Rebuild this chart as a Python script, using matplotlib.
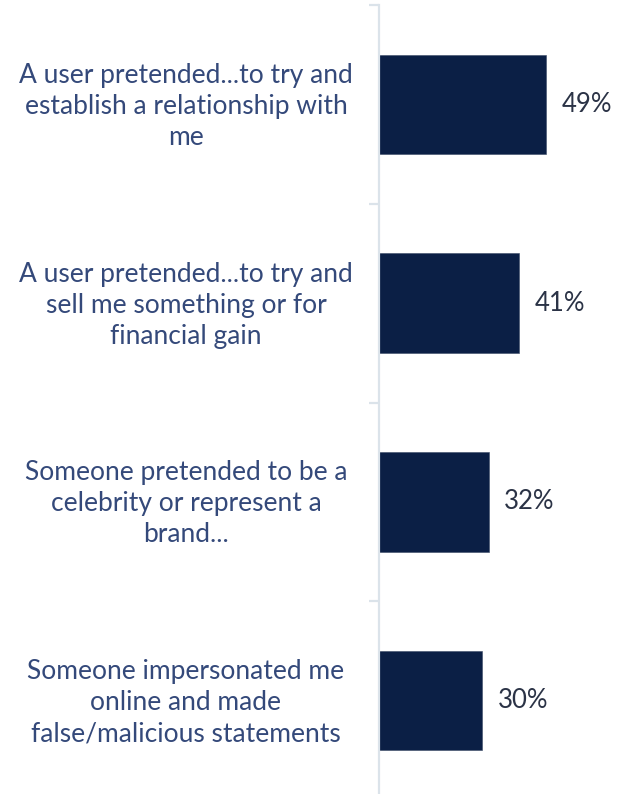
import matplotlib

matplotlib.use("Agg")

import matplotlib.pyplot as plt
from matplotlib.transforms import blended_transform_factory

categories = [
    "A user pretended...to try and\nestablish a relationship with\nme",
    "A user pretended...to try and\nsell me something or for\nfinancial gain",
    "Someone pretended to be a\ncelebrity or represent a\nbrand...",
    "Someone impersonated me\nonline and made\nfalse/malicious statements",
]
values = [49, 41, 32, 30]

BAR_COLOR = "#0b1f45"
LABEL_COLOR = "#34497a"
VALUE_COLOR = "#2b3346"
AXIS_COLOR = "#dbe3ea"

plt.rcParams["font.family"] = ["Lato", "DejaVu Sans"]

W, H = 618, 794
fig = plt.figure(figsize=(W / 100, H / 100), dpi=100)
ax = fig.add_axes([379.5 / W, -6 / H, 1 - 379.5 / W, 795 / H])

positions = list(range(len(values)))
ax.barh(positions, values, height=0.5, color=BAR_COLOR,
        edgecolor="#3b4a66", linewidth=0.4)
ax.set_xlim(0, 70)
ax.set_ylim(len(values) - 0.5, -0.5)

for side in ("top", "right", "bottom"):
    ax.spines[side].set_visible(False)
ax.spines["left"].set_color(AXIS_COLOR)
ax.spines["left"].set_linewidth(1.6)
ax.set_xticks([])
ax.set_yticks([p - 0.5 for p in positions])
ax.tick_params(axis="y", length=7, width=1.6, color=AXIS_COLOR, labelleft=False)

for pos, val in zip(positions, values):
    ax.text(val + 4.6, pos, f"{val}%", va="center", ha="left",
            fontsize=18.5, color=VALUE_COLOR)

trans = blended_transform_factory(fig.transFigure, ax.transData)
for pos, label in zip(positions, categories):
    ax.text(186 / W, pos + 0.01, label, transform=trans, ha="center", va="center",
            multialignment="center", fontsize=19, color=LABEL_COLOR,
            linespacing=1.3)

fig.savefig("out.png", dpi=100)
